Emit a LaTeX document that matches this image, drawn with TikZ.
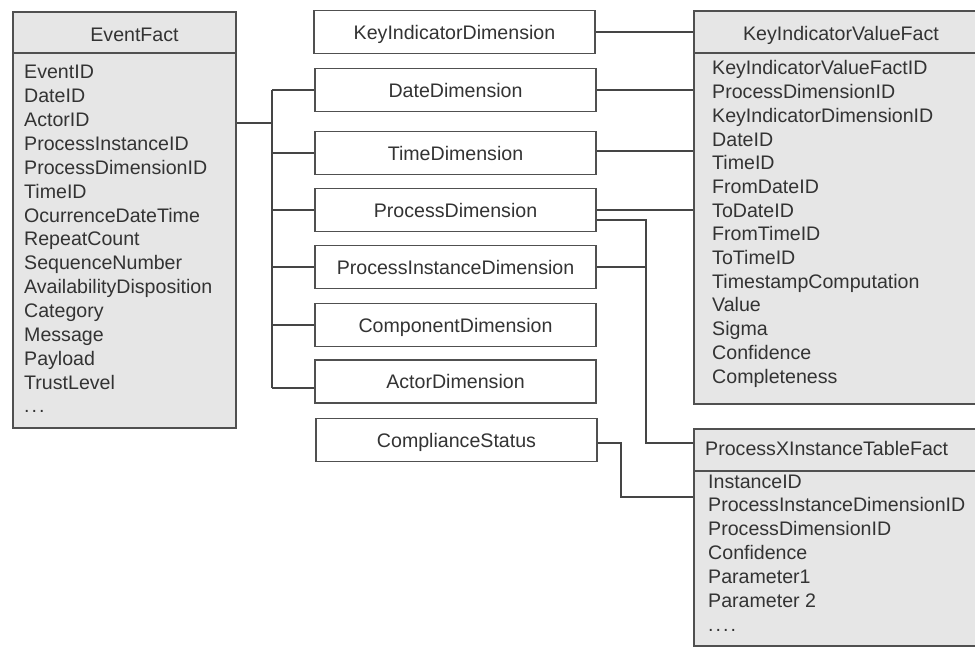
\documentclass[tikz,border=0pt]{standalone}
\usepackage{fontspec}
\setmainfont{Liberation Sans}
\usetikzlibrary{calc}
\definecolor{txt}{HTML}{333333}
\definecolor{boxc}{HTML}{505050}
\definecolor{linec}{HTML}{454545}
\definecolor{factfill}{HTML}{E6E6E6}
\newcommand{\dfont}{\fontsize{19.6}{23.8}\selectfont}
\begin{document}
\begin{tikzpicture}[x=1pt,y=-1pt,
  factbox/.style={draw=boxc, fill=factfill, line width=1.6pt, inner sep=0pt, anchor=north west},
  dimbox/.style={draw=boxc, fill=white, line width=1.6pt, inner sep=0pt, minimum width=281pt, minimum height=43pt, text height=14.1pt, text depth=0pt, font=\dfont, text=txt},
  rowtext/.style={anchor=base west, inner sep=0pt, font=\dfont, text=txt},
  headtext/.style={anchor=base, inner sep=0pt, font=\dfont, text=txt},
  link/.style={draw=linec, line width=1.6pt}]
\useasboundingbox (0,0) rectangle (975,647);

% EventFact
\node[factbox, minimum width=223pt, minimum height=41pt] (efh) at (12,11) {};
\node[factbox, minimum width=223pt, minimum height=375pt] (efb) at (12,52) {};
\node[headtext] (eft) at (134.5,42) {EventFact};
\foreach \t [count=\i from 0] in {EventID,DateID,ActorID,ProcessInstanceID,ProcessDimensionID,TimeID,OcurrenceDateTime,RepeatCount,SequenceNumber,AvailabilityDisposition,Category,Message,Payload,TrustLevel}
  \node[rowtext] (ef\i) at ({24},{79+23.85*\i}) {\t};
\node[rowtext] (efdots) at (24,412) {.\kern2pt.\kern2pt.};

% KeyIndicatorValueFact
\node[factbox, minimum width=300pt, minimum height=42pt] (kvh) at (693,10) {};
\node[factbox, minimum width=300pt, minimum height=351pt] (kvb) at (693,52) {};
\node[headtext] (kvt) at (841,41) {KeyIndicatorValueFact};
\foreach \t [count=\i from 0] in {KeyIndicatorValueFactID,ProcessDimensionID,KeyIndicatorDimensionID,DateID,TimeID,FromDateID,ToDateID,FromTimeID,ToTimeID,TimestampComputation,Value,Sigma,Confidence,Completeness}
  \node[rowtext] (kv\i) at ({712},{75+23.7*\i}) {\t};

% ProcessXInstanceTableFact
\node[factbox, minimum width=300pt, minimum height=42pt] (pxh) at (693,428) {};
\node[factbox, minimum width=300pt, minimum height=175pt] (pxb) at (693,470) {};
\node[rowtext] (pxt) at (705,455) {ProcessXInstanceTableFact};
\foreach \t [count=\i from 0] in {InstanceID,ProcessInstanceDimensionID,ProcessDimensionID,Confidence,Parameter1,Parameter 2}
  \node[rowtext] (px\i) at ({708},{488+23.8*\i}) {\t};
\node[rowtext] (pxdots) at (708,631) {.\kern2pt.\kern2pt.\kern2pt.};

% Dimensions
\node[dimbox] (kid) at (454.5,32) {KeyIndicatorDimension};
\node[dimbox] (date) at (455.5,90) {DateDimension};
\node[dimbox] (time) at (455.5,153) {TimeDimension};
\node[dimbox] (proc) at (455.5,210) {ProcessDimension};
\node[dimbox] (pid) at (455.5,267) {ProcessInstanceDimension};
\node[dimbox] (comp) at (455.5,325) {ComponentDimension};
\node[dimbox] (actor) at (455.5,381.5) {ActorDimension};
\node[dimbox] (cs) at (456.5,440) {ComplianceStatus};

% EventFact bus
\coordinate (busEF) at (272,123);
\coordinate (busTop) at (272,90);
\coordinate (busBot) at (272,388);
\draw[link] (efb.east |- busEF) -- (busEF);
\draw[link] (busTop) -- (busBot);
\draw[link] (busTop) -- (date.west);
\draw[link] (busTop |- time.west) -- (time.west);
\draw[link] (busTop |- proc.west) -- (proc.west);
\draw[link] (busTop |- pid.west) -- (pid.west);
\draw[link] (busTop |- comp.west) -- (comp.west);
\draw[link] (busBot) -- (busBot -| actor.west);

% KeyIndicatorValueFact links
\draw[link] (kid.east) -- (kid.east -| kvb.west);
\draw[link] (date.east) -- (date.east -| kvb.west);
\draw[link] ([yshift=2pt]time.east) -- ([yshift=2pt]time.east -| kvb.west);
\draw[link] (proc.east) -- (proc.east -| kvb.west);

% ProcessXInstanceTableFact links
\coordinate (pjTop) at (646,220);
\coordinate (pjBot) at (646,443);
\draw[link] (pjTop -| proc.east) -- (pjTop) -- (pjBot) -- (pjBot -| pxh.west);
\draw[link] (pid.east) -- (pid.east -| pjTop);
\coordinate (cjBot) at (621,497);
\draw[link] ([yshift=-3pt]cs.east) -| (cjBot) -- (cjBot -| pxb.west);
\end{tikzpicture}
\end{document}
